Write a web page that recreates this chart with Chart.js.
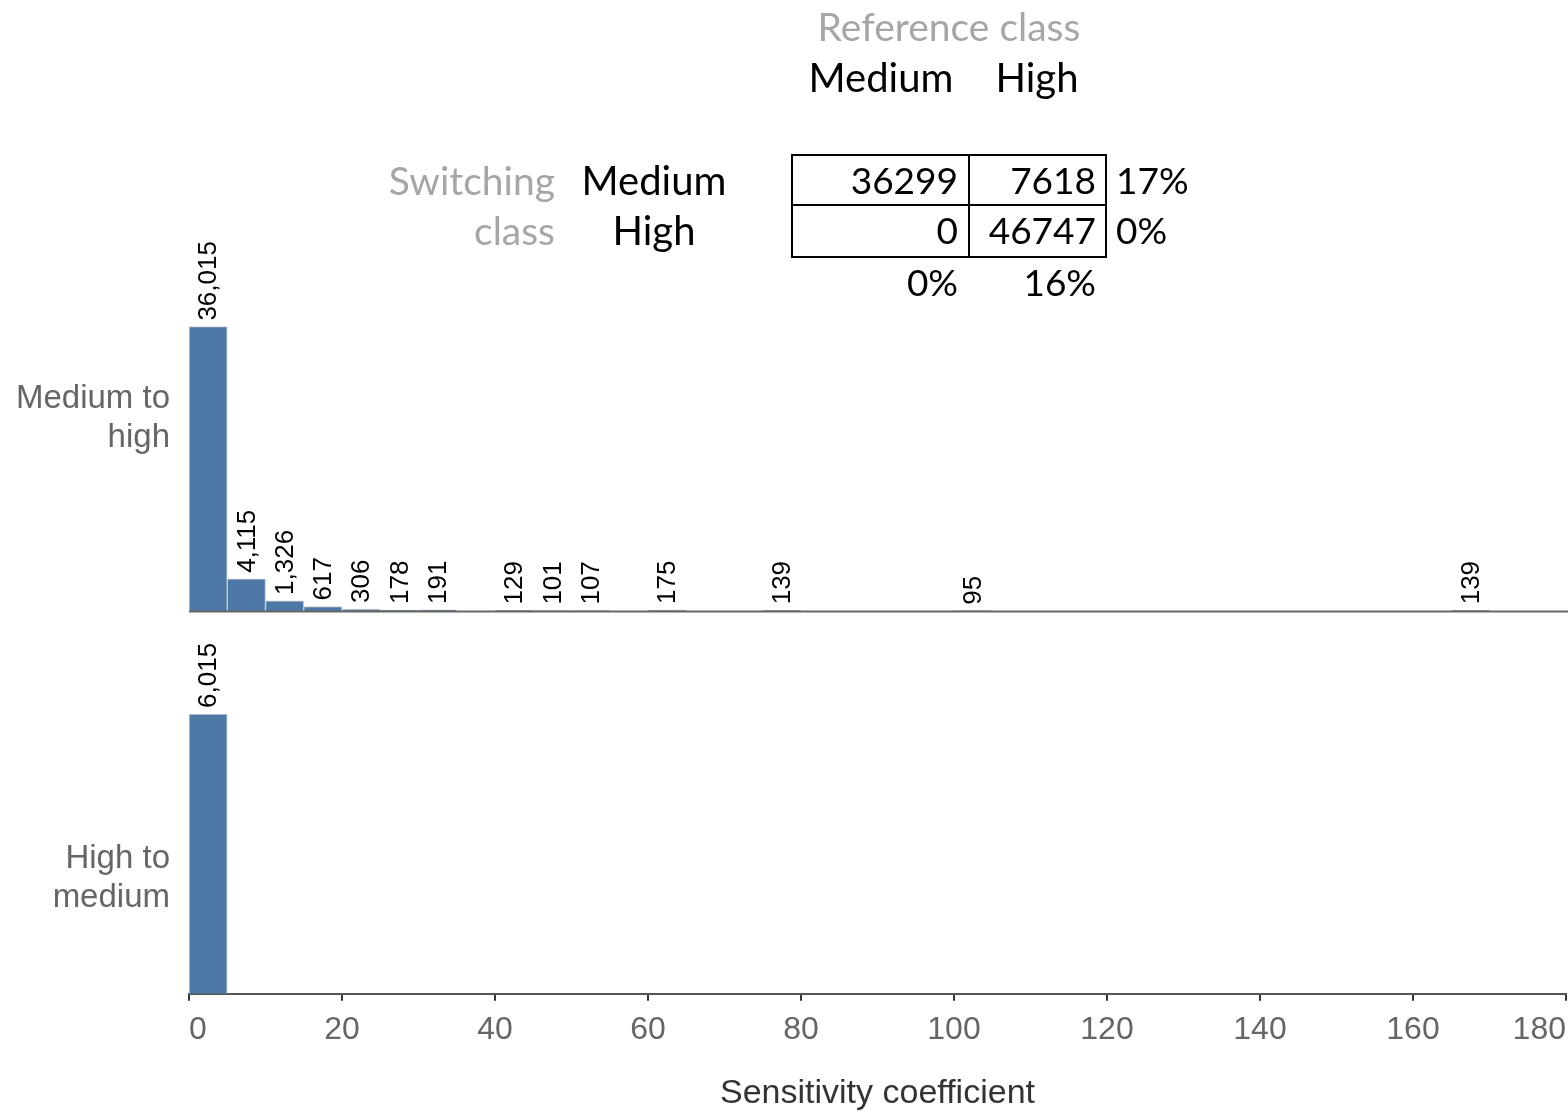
<!DOCTYPE html>
<html>
<head>
<meta charset="utf-8">
<script src="https://cdn.jsdelivr.net/npm/chart.js@4.4.1/dist/chart.umd.min.js"></script>
<style>
  html, body { margin: 0; padding: 0; background: #fff; }
  #wrap { width: 1568px; height: 1114px; position: relative; }
</style>
</head>
<body>
<div id="wrap"><canvas id="hist-chart"></canvas></div>
<script>
// histogram bins are 5 wide, only non-empty bins listed (bin start)
const binWidth = 5;
const upBins = [0, 5, 10, 15, 20, 25, 30, 40, 45, 50, 60, 75, 100, 165];
const upCounts = [36015, 4115, 1326, 617, 306, 178, 191, 129, 101, 107, 175, 139, 95, 139];
const downBins = [0];
const downCounts = [6015];
const panelNames = [["Medium to", "high"], ["High to", "medium"]];

// confusion table shown above the histograms
const refClasses = ["Medium", "High"];
const switchClasses = ["Medium", "High"];
const matrix = [[36299, 7618], [0, 46747]];
const rowShare = ["17%", "0%"];
const colShare = ["0%", "16%"];

const sans = "'Liberation Sans', Arial, sans-serif";
const tableFont = "Lato, 'Open Sans', sans-serif";
Chart.defaults.font.family = sans;

const toPoints = (bins, counts) => bins.map((b, i) => ({ x: b + binWidth / 2, y: counts[i] }));

const barLabels = {
  id: 'barLabels',
  afterDatasetsDraw(chart) {
    const ctx = chart.ctx;
    ctx.save();
    ctx.fillStyle = '#000';
    ctx.font = "26px " + sans;
    ctx.textAlign = 'left';
    ctx.textBaseline = 'middle';
    chart.data.datasets.forEach((ds, di) => {
      chart.getDatasetMeta(di).data.forEach((bar, i) => {
        ctx.save();
        ctx.translate(bar.x + 1, bar.y - 6);
        ctx.rotate(-Math.PI / 2);
        ctx.fillText(ds.data[i].y.toLocaleString('en-US'), 0, 0);
        ctx.restore();
      });
    });
    ctx.restore();
  }
};

const panelDecor = {
  id: 'panelDecor',
  afterDraw(chart) {
    const ctx = chart.ctx;
    const area = chart.chartArea;
    ctx.save();
    // baseline of the upper panel
    const y0 = chart.scales.yUp.getPixelForValue(0);
    ctx.strokeStyle = '#666';
    ctx.lineWidth = 2;
    ctx.beginPath();
    ctx.moveTo(area.left, y0);
    ctx.lineTo(chart.width, y0);
    ctx.stroke();

    // panel names on the left
    ctx.fillStyle = '#666';
    ctx.font = "33px " + sans;
    ctx.textAlign = 'right';
    ctx.textBaseline = 'middle';
    const spots = [[chart.scales.yUp, 0.495], [chart.scales.yDown, 0.697]];
    spots.forEach(([sc, f], p) => {
      const cy = sc.top + f * (sc.bottom - sc.top);
      ctx.fillText(panelNames[p][0], area.left - 19, cy - 19);
      ctx.fillText(panelNames[p][1], area.left - 19, cy + 20);
    });
    ctx.restore();
  }
};

const crossTable = {
  id: 'crossTable',
  afterDraw(chart) {
    const ctx = chart.ctx;
    ctx.save();
    ctx.textBaseline = 'middle';
    ctx.font = "39px " + tableFont;

    ctx.fillStyle = '#a6a6a6';
    ctx.textAlign = 'center';
    ctx.fillText("Reference class", 949, 28);
    ctx.textAlign = 'right';
    ctx.fillText("Switching", 555, 182);
    ctx.fillText("class", 555, 232);

    ctx.fillStyle = '#000';
    ctx.font = "40px " + tableFont;
    ctx.textAlign = 'center';
    ctx.fillText(refClasses[0], 881, 79);
    ctx.fillText(refClasses[1], 1037, 79);
    ctx.fillText(switchClasses[0], 654, 182);
    ctx.fillText(switchClasses[1], 654, 232);

    ctx.font = "37px " + tableFont;
    const rowsY = [182, 232];
    const colsRight = [958, 1096];
    ctx.textAlign = 'right';
    matrix.forEach((row, r) => row.forEach((v, c) => ctx.fillText(String(v), colsRight[c], rowsY[r])));
    colShare.forEach((s, c) => ctx.fillText(s, colsRight[c], 284));
    ctx.textAlign = 'left';
    rowShare.forEach((s, r) => ctx.fillText(s, 1116, rowsY[r]));

    ctx.strokeStyle = '#000';
    ctx.lineWidth = 2;
    ctx.strokeRect(792, 155, 314, 102);
    ctx.beginPath();
    ctx.moveTo(969, 155); ctx.lineTo(969, 257);
    ctx.moveTo(792, 205); ctx.lineTo(1106, 205);
    ctx.stroke();
    ctx.restore();
  }
};

const barStyle = {
  grouped: false,
  barPercentage: 1,
  categoryPercentage: 1,
  backgroundColor: '#4e79a7',
  borderColor: '#d0d0d0',
  borderWidth: 1
};

new Chart(document.getElementById("hist-chart"), {
  type: 'bar',
  data: {
    datasets: [Object.assign({
      label: "Medium to high",
      data: toPoints(upBins, upCounts),
      yAxisID: 'yUp'
    }, barStyle), Object.assign({
      label: "High to medium",
      data: toPoints(downBins, downCounts),
      yAxisID: 'yDown'
    }, barStyle)]
  },
  options: {
    responsive: true,
    maintainAspectRatio: false,
    animation: false,
    layout: { autoPadding: false, padding: { left: 181, right: 2, top: 229, bottom: 0 } },
    plugins: { legend: { display: false }, tooltip: { enabled: false } },
    scales: {
      x: {
        type: 'linear',
        min: 0,
        max: 180,
        offset: false,
        afterFit(scale) { scale.paddingLeft = 0; scale.paddingRight = 0; },
        grid: { display: true, offset: false, drawOnChartArea: false, drawTicks: true, tickLength: 7, color: '#333', lineWidth: 2 },
        border: { display: true, color: '#555', width: 2 },
        ticks: { stepSize: 20, align: 'inner', color: '#666', font: { size: 32 }, padding: 10, maxRotation: 0 },
        title: { display: true, text: 'Sensitivity coefficient', color: '#333', font: { size: 34 }, padding: { top: 14, bottom: 0 } }
      },
      yDown: {
        stack: 'panels',
        position: 'left',
        min: 0,
        max: 8220,
        grid: { display: false },
        border: { display: false },
        ticks: { display: false }
      },
      yUp: {
        stack: 'panels',
        position: 'left',
        min: 0,
        max: 48360,
        grid: { display: false },
        border: { display: false },
        ticks: { display: false }
      }
    }
  },
  plugins: [barLabels, panelDecor, crossTable]
});
</script>
</body>
</html>
